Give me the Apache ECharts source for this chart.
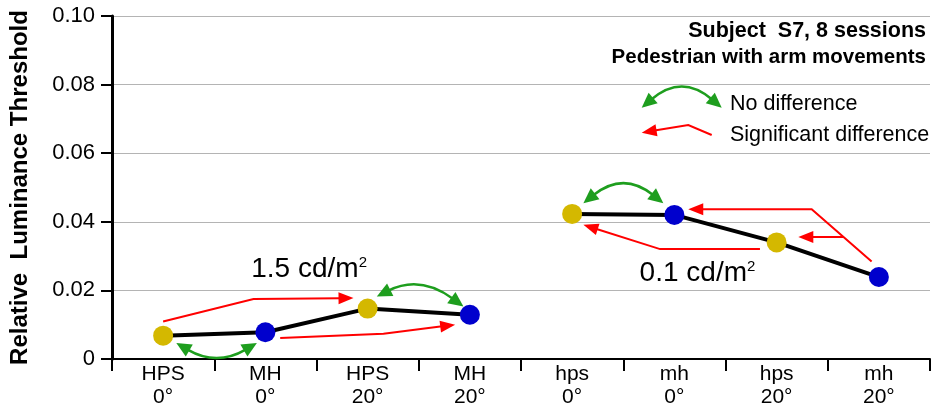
<!DOCTYPE html>
<html><head><meta charset="utf-8">
<script src="https://cdn.jsdelivr.net/npm/echarts@6/dist/echarts.min.js"></script>
<style>html,body{margin:0;padding:0;background:#fff}#c{width:935px;height:412px}</style>
</head><body><div id="c"></div>
<script>
// ---------- data ----------
const categories = ['HPS\n0°', 'MH\n0°', 'HPS\n20°', 'MH\n20°', 'hps\n0°', 'mh\n0°', 'hps\n20°', 'mh\n20°'];
const lampTypes = ['HPS', 'MH', 'HPS', 'MH', 'HPS', 'MH', 'HPS', 'MH'];
const highLuminance = [0.0068, 0.0078, 0.0147, 0.0129, null, null, null, null]; // 1.5 cd/m2
const lowLuminance = [null, null, null, null, 0.0423, 0.0420, 0.0340, 0.0239];  // 0.1 cd/m2
const yMin = 0, yMax = 0.10, yStep = 0.02;
const yAxisName = 'Relative  Luminance Threshold';
const titleLines = ['Subject  S7, 8 sessions', 'Pedestrian with arm movements'];
const legendLabels = ['No difference', 'Significant difference'];
// annotations, in data units: x = category index, y = threshold value
const redArrows = [
  [[0.00, 0.01095], [0.884, 0.01748], [1.862, 0.01777]],
  [[1.145, 0.00612], [2.155, 0.00737], [2.856, 0.00999]],
  [[6.929, 0.02843], [6.343, 0.04369], [5.136, 0.04369]],
  [[6.656, 0.03554], [6.212, 0.03554]],
  [[5.837, 0.03204], [4.860, 0.03204], [4.110, 0.03912]]
];
const greenArrows = [ // [start, control, end]
  [[0.129, 0.00466], [0.523, -0.00216], [0.917, 0.00466]],
  [[2.090, 0.01823], [2.513, 0.02459], [2.937, 0.01532]],
  [[4.110, 0.04544], [4.501, 0.05476], [4.892, 0.04544]]
];
const luminanceLabels = [
  { main: '1.5 cd/m', sup: '2', x: 0.862, y: 0.0262 },
  { main: '0.1 cd/m', sup: '2', x: 4.660, y: 0.0250 }
];

// ---------- styles ----------
const FONT = '"Liberation Sans", Arial, Helvetica, sans-serif';
const lampColors = { HPS: '#D4B800', MH: '#0000CD' };
const RED = '#FF0000', GREEN = '#1E9E1E';

function head(tip, from, L, W) {
  const dx = tip[0] - from[0], dy = tip[1] - from[1];
  const len = Math.hypot(dx, dy) || 1;
  const ux = dx / len, uy = dy / len, nx = -uy, ny = ux;
  const bx = tip[0] - ux * L, by = tip[1] - uy * L;
  return {
    base: [tip[0] - ux * (L - 2), tip[1] - uy * (L - 2)],
    poly: [[tip[0], tip[1]], [bx + nx * W, by + ny * W], [bx - nx * W, by - ny * W]]
  };
}
function redArrowEls(pts) {
  const n = pts.length;
  const h = head(pts[n - 1], pts[n - 2], 15, 6);
  const line = pts.slice(0, n - 1).concat([h.base]);
  return [
    { type: 'polyline', shape: { points: line }, style: { stroke: RED, lineWidth: 2, fill: null } },
    { type: 'polygon', shape: { points: h.poly }, style: { fill: RED } }
  ];
}
function greenArrowEls(S, C, E) {
  const hs = head(S, C, 15, 7), he = head(E, C, 15, 7);
  return [
    { type: 'bezierCurve', shape: { x1: hs.base[0], y1: hs.base[1], x2: he.base[0], y2: he.base[1], cpx1: C[0], cpy1: C[1] },
      style: { stroke: GREEN, lineWidth: 2.5, fill: null } },
    { type: 'polygon', shape: { points: hs.poly }, style: { fill: GREEN } },
    { type: 'polygon', shape: { points: he.poly }, style: { fill: GREEN } }
  ];
}

const chart = echarts.init(document.getElementById('c'), null, { renderer: 'canvas' });

function pointData(values) {
  return values.map((v, i) => v == null ? null : { value: v, itemStyle: { color: lampColors[lampTypes[i]] } });
}

const annotationData = [];
redArrows.forEach((a, i) => annotationData.push([a[a.length - 1][0], a[a.length - 1][1], 0, i]));
greenArrows.forEach((a, i) => annotationData.push([a[2][0], a[2][1], 1, i]));
luminanceLabels.forEach((a, i) => annotationData.push([a.x, a.y, 2, i]));

const legendEls = []
  .concat(greenArrowEls([641.7, 107.7], [681.7, 73.7], [721.7, 107.7]))
  .concat(redArrowEls([[711.7, 135], [688.3, 125], [641.7, 132.7]]))
  .concat([
    { type: 'text', x: 730, y: 104, style: { text: legendLabels[0], font: '21.5px ' + FONT, fill: '#000', verticalAlign: 'middle', align: 'left' } },
    { type: 'text', x: 730, y: 135, style: { text: legendLabels[1], font: '21.5px ' + FONT, fill: '#000', verticalAlign: 'middle', align: 'left' } },
    { type: 'text', x: 926, y: 31, style: { text: titleLines[0], font: 'bold 21.5px ' + FONT, fill: '#000', verticalAlign: 'middle', align: 'right' } },
    { type: 'text', x: 926, y: 57, style: { text: titleLines[1], font: 'bold 20.5px ' + FONT, fill: '#000', verticalAlign: 'middle', align: 'right' } }
  ]);

chart.setOption({
  animation: false,
  backgroundColor: '#fff',
  textStyle: { fontFamily: FONT, color: '#000' },
  grid: { left: 112, right: 5, top: 16, bottom: 53, containLabel: false },
  xAxis: [{
    type: 'category', data: categories, boundaryGap: true,
    axisLine: { lineStyle: { color: '#000', width: 2 } },
    axisTick: { show: true, length: 12, lineStyle: { color: '#000', width: 2 } },
    axisLabel: { color: '#000', fontSize: 21, lineHeight: 22.5, margin: 4, fontFamily: FONT, interval: 0 },
    splitLine: { show: false }
  }, {
    type: 'value', min: -0.5, max: 7.5, show: false
  }],
  yAxis: {
    type: 'value', min: yMin, max: yMax, interval: yStep,
    name: yAxisName, nameLocation: 'middle', nameGap: 80,
    nameTextStyle: { fontFamily: FONT, fontSize: 24, fontWeight: 'bold', color: '#000' },
    axisLine: { show: true, onZero: false, lineStyle: { color: '#000', width: 3 } },
    axisTick: { show: true, length: 11, lineStyle: { color: '#000', width: 2 } },
    axisLabel: { color: '#000', fontSize: 22, margin: 17, fontFamily: FONT,
      formatter: v => v === 0 ? '0' : v.toFixed(2) },
    splitLine: { show: true, lineStyle: { color: '#b4b4b4', width: 1 } }
  },
  graphic: { elements: legendEls },
  series: [
    { type: 'line', name: '1.5 cd/m2', data: pointData(highLuminance), z: 3,
      symbol: 'circle', symbolSize: 20, lineStyle: { color: '#000', width: 4 }, connectNulls: false },
    { type: 'line', name: '0.1 cd/m2', data: pointData(lowLuminance), z: 3,
      symbol: 'circle', symbolSize: 20, lineStyle: { color: '#000', width: 4 }, connectNulls: false },
    { type: 'custom', xAxisIndex: 1, yAxisIndex: 0, z: 2, silent: true, clip: false,
      data: annotationData,
      renderItem: function (params, api) {
        const kind = api.value(2), idx = api.value(3);
        let children = [];
        if (kind === 0) {
          children = redArrowEls(redArrows[idx].map(p => api.coord(p)));
        } else if (kind === 1) {
          const g = greenArrows[idx];
          children = greenArrowEls(api.coord(g[0]), api.coord(g[1]), api.coord(g[2]));
        } else {
          const l = luminanceLabels[idx];
          const p = api.coord([l.x, l.y]);
          children = [{ type: 'text', x: p[0], y: p[1], style: {
            text: '{m|' + l.main + '}{s|' + l.sup + '}',
            align: 'left', verticalAlign: 'middle',
            rich: { m: { fontSize: 28, fontFamily: FONT, fill: '#000' },
                    s: { fontSize: 15, fontFamily: FONT, fill: '#000', verticalAlign: 'top' } }
          } }];
        }
        return { type: 'group', children: children };
      }
    }
  ]
});
</script></body></html>
